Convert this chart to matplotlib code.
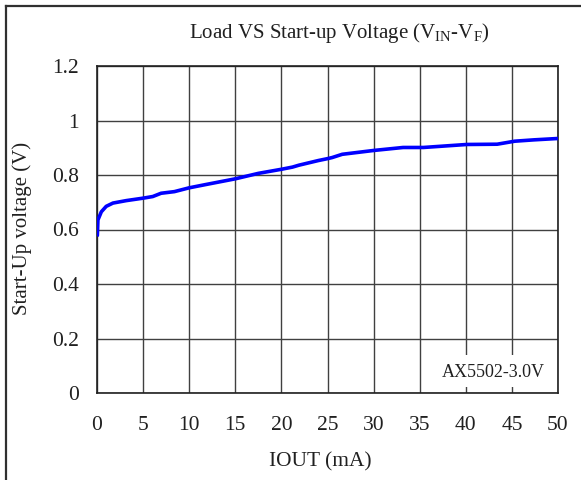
import matplotlib
matplotlib.use("Agg")
import matplotlib.pyplot as plt
from matplotlib.lines import Line2D
from matplotlib.patches import Rectangle

plt.rcParams['font.family'] = ['Liberation Serif', 'DejaVu Serif']
plt.rcParams['mathtext.fontset'] = 'custom'
plt.rcParams['mathtext.rm'] = 'Liberation Serif'
plt.rcParams['mathtext.it'] = 'Liberation Serif:italic'

iout = [0.0, 0.04, 0.1, 0.47, 1.0, 1.73, 3.17, 5.0, 6.05, 6.95, 8.4, 10.0, 11.8,
        15.0, 17.5, 20.0, 21.2, 21.9, 24.0, 25.0, 25.5, 26.6, 30.0, 33.2, 35.4,
        40.1, 43.4, 45.3, 47.4, 50.0]
vstart = [0.575, 0.579, 0.635, 0.665, 0.685, 0.697, 0.706, 0.715, 0.721, 0.733,
          0.739, 0.753, 0.765, 0.786, 0.806, 0.821, 0.829, 0.836, 0.853, 0.860,
          0.864, 0.876, 0.890, 0.901, 0.901, 0.912, 0.913, 0.924, 0.929, 0.934]
xticks = [0, 5, 10, 15, 20, 25, 30, 35, 40, 45, 50]
yticks = [0, 0.2, 0.4, 0.6, 0.8, 1.0, 1.2]
yticklabels = ['0', '0.2', '0.4', '0.6', '0.8', '1', '1.2']

fig = plt.figure(figsize=(5.81, 4.80), dpi=100)
ax = fig.add_axes([97/581, 1-393/480, (558-97)/581, (393-66)/480])

ax.plot(iout, vstart, color='#0000ff', lw=2.6, solid_capstyle='butt', zorder=3)
ax.set_xlim(0, 50)
ax.set_ylim(0, 1.2)
ax.set_xticks(xticks)
ax.set_yticks(yticks)
ax.set_yticklabels(yticklabels)
ax.grid(True, color='#404040', lw=1.0)
ax.set_axisbelow(True)
for s in ax.spines.values():
    s.set_color('#202020')
    s.set_linewidth(1.2)
ax.tick_params(axis='both', length=0, labelsize=15.5, colors='#202020')
ax.tick_params(axis='x', pad=16.5)
ax.tick_params(axis='y', pad=13)

ax.add_patch(Rectangle((0.718, 0.018), 0.278, 0.098, transform=ax.transAxes,
                       facecolor='white', edgecolor='none', zorder=2))
ax.text(0.86, 0.064, 'AX5502-3.0V', transform=ax.transAxes, ha='center', va='center',
        fontsize=13, color='#202020', zorder=4)

fig.text(339/581, 1-33/480, r'Load VS Start-up Voltage (V$_{\mathrm{IN}}$-V$_{\mathrm{F}}$)',
         ha='center', va='center', fontsize=15, color='#202020')
fig.text(320/581, 1-462/480, 'IOUT (mA)', ha='center', va='center', fontsize=15.4, color='#202020')
fig.text(22/581, 1-228/480, 'Start-Up voltage (V)', ha='center', va='center', rotation=90,
         fontsize=15, color='#202020')

fig.add_artist(Line2D([6/581, 1.0], [1-6/480, 1-6/480], transform=fig.transFigure,
                      color='#303030', lw=1.6))
fig.add_artist(Line2D([6/581, 6/581], [0.0, 1-6/480], transform=fig.transFigure,
                      color='#303030', lw=1.6))

fig.savefig('out.png', dpi=100)
